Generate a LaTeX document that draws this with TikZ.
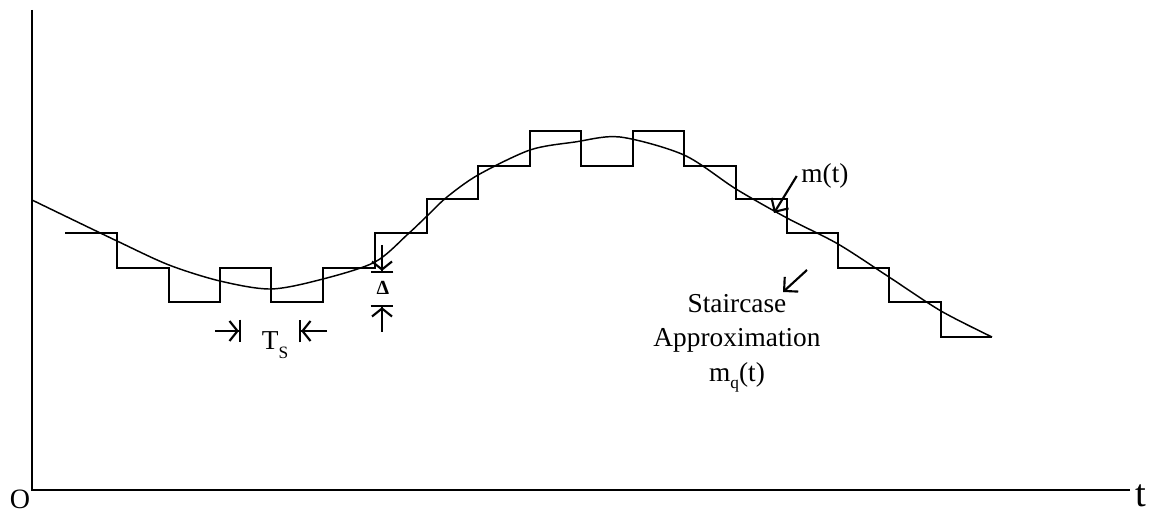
\documentclass[tikz,border=0pt]{standalone}
\usepackage{fontspec}
\setmainfont{Liberation Serif}
\usetikzlibrary{arrows.meta}
\newcommand{\lowsub}[2][-0.35em]{\raisebox{#1}{\fontsize{13}{13}\selectfont #2}}

\begin{document}
\begin{tikzpicture}[x=0.75pt,y=-0.75pt,line width=1.1pt,
  dimarrow/.style={line width=1.6pt,-{Straight Barb[length=6pt,width=15pt,sep=0pt]Bar[width=17pt]}},
  pointer/.style={line width=1.6pt,-{Straight Barb[length=7.5pt,width=15pt]}},
  lbl/.style={font=\fontsize{20.5}{26}\selectfont,inner sep=0pt}]
  \useasboundingbox (0,0) rectangle (1150,513);
  % axes
  \coordinate (O) at (32,490);
  \coordinate (Ytop) at (32,10);
  \coordinate (Xend) at (1130,490);
  \draw[line width=1.5pt] (Ytop) -- (O) -- (Xend);
  \node[inner sep=0pt,font=\fontsize{21}{24}\selectfont] (origin) at (20,499) {O};
  \node[inner sep=0pt,font=\fontsize{29}{32}\selectfont] (tlabel) at (1141,496) {t};
  % message m(t)
  \draw plot[smooth] coordinates {(32,200) (117,241) (169,265) (220,281)
    (271,289) (323,279) (375,262) (408,234) (427,216) (447,197) (478,175)
    (530,150) (575,142) (620,137) (684,155) (736,189) (787,218) (838,244)
    (889,277) (941,311) (992,337)};
  % staircase m_q(t)
  \draw (65,233) -| (117,268) -| (169,302) -| (220,268) -| (271,302)
    -| (323,268) -| (375,233) -| (427,199) -| (478,166) -| (530,131)
    -| (581,166) -| (633,131) -| (684,166) -| (736,199) -| (787,233)
    -| (838,268) -| (889,302) -| (941,337) -- (992,337);
  % step width
  \coordinate (TsL) at (215,331);
  \coordinate (TsLend) at (241,331);
  \coordinate (TsR) at (327,331);
  \coordinate (TsRend) at (299,331);
  \draw[dimarrow] (TsL) -- (TsLend);
  \draw[dimarrow] (TsR) -- (TsRend);
  \node[lbl] (ts) at (275,345) {T\lowsub{S}};
  % step height
  \coordinate (DeTop) at (382,245);
  \coordinate (DeTopEnd) at (382,273);
  \coordinate (DeBot) at (382,332);
  \coordinate (DeBotEnd) at (382,305);
  \draw[dimarrow] (DeTop) -- (DeTopEnd);
  \draw[dimarrow] (DeBot) -- (DeBotEnd);
  \node[inner sep=0pt,font=\fontsize{15}{16}\selectfont\bfseries] (delta) at (383,288) {Δ};
  % labels
  \node[lbl] (mt) at (825,176) {m(t)};
  \coordinate (mtTip) at (774,213);
  \draw[pointer] (mt.west) ++(-4,0) -- (mtTip);
  \node[lbl,align=center] (stair) at (737,343)
    {Staircase\\Approximation\\m\lowsub[-0.25em]{q}(t)};
  \coordinate (stTail) at (807,270);
  \coordinate (stTip) at (783,292);
  \draw[pointer] (stTail) -- (stTip);
\end{tikzpicture}
\end{document}
